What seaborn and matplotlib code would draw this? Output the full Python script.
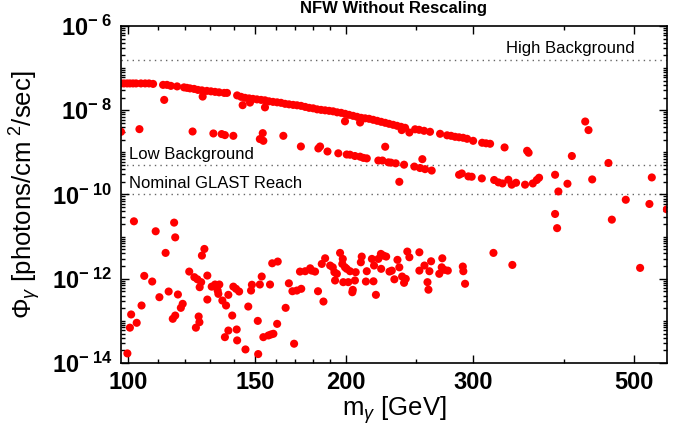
import numpy as np
import pandas as pd
import matplotlib
matplotlib.use('Agg')
import matplotlib.pyplot as plt
import matplotlib.ticker as mticker
import seaborn as sns

sns.set_style('ticks')
plt.rcParams['font.family'] = ['Liberation Sans', 'DejaVu Sans']
plt.rcParams['mathtext.fontset'] = 'custom'
plt.rcParams['mathtext.rm'] = 'Liberation Sans'
plt.rcParams['mathtext.it'] = 'Liberation Sans:italic'
plt.rcParams['mathtext.bf'] = 'Liberation Sans:bold'
plt.rcParams['text.color'] = 'black'
plt.rcParams['axes.labelcolor'] = 'black'
plt.rcParams['xtick.color'] = 'black'
plt.rcParams['ytick.color'] = 'black'

# ===== data =====
# upper branch (smooth band)
band_mass = [97.9, 98.8, 99.8, 100.7, 101.7, 102.7, 104.3, 105.7, 107.0, 108.4,
             111.9, 113.3, 114.7, 117.0, 119.6, 120.7, 121.9, 123.5, 125.0, 126.6,
             128.6, 130.3, 132.0, 133.7, 135.9, 137.1, 141.6, 143.4, 145.2, 147.1,
             148.9, 150.8, 152.8, 154.7, 156.7, 158.7, 160.8, 162.8, 164.9, 167.0,
             169.2, 171.3, 173.5, 175.8, 178.0, 180.3, 182.6, 184.9, 187.3, 189.7,
             192.1, 194.6, 197.1, 199.6, 202.1, 204.7, 207.3, 210.0, 212.7, 215.4,
             218.2, 221.0, 223.8, 226.7, 229.5, 232.5, 235.4, 238.4, 241.5, 249.3,
             252.5, 256.5, 261.4, 269.9, 276.0, 279.5, 283.1, 286.7, 290.4, 294.1,
             299.8, 308.5, 312.4, 316.4]
band_flux = [4.33e-8, 4.33e-8, 4.33e-8, 4.33e-8, 4.33e-8, 4.33e-8, 4.33e-8, 4.33e-8, 4.33e-8, 4.22e-8,
             4.0e-8, 4.0e-8, 3.79e-8, 3.68e-8, 3.49e-8, 3.40e-8, 3.30e-8, 3.21e-8, 3.04e-8, 2.96e-8,
             2.88e-8, 2.81e-8, 2.73e-8, 2.66e-8, 2.58e-8, 2.58e-8, 2.25e-8, 2.08e-8, 1.97e-8, 1.91e-8,
             1.86e-8, 1.81e-8, 1.76e-8, 1.72e-8, 1.63e-8, 1.58e-8, 1.54e-8, 1.50e-8, 1.42e-8, 1.38e-8,
             1.34e-8, 1.31e-8, 1.27e-8, 1.20e-8, 1.14e-8, 1.11e-8, 1.05e-8, 1.02e-8, 9.95e-9, 9.68e-9,
             9.42e-9, 8.92e-9, 8.68e-9, 8.22e-9, 7.78e-9, 7.37e-9, 6.98e-9, 6.61e-9, 6.43e-9, 6.26e-9,
             5.93e-9, 5.61e-9, 5.31e-9, 5.03e-9, 4.76e-9, 4.51e-9, 4.27e-9, 4.04e-9, 3.83e-9, 3.53e-9,
             3.43e-9, 3.25e-9, 3.08e-9, 2.76e-9, 2.54e-9, 2.47e-9, 2.34e-9, 2.28e-9, 2.22e-9, 2.10e-9,
             1.88e-9, 1.69e-9, 1.64e-9, 1.60e-9]

# points just below the upper band
stray_mass = [112.3, 126.9, 144.1, 147.5, 154.7, 199.5, 209.3, 238.9, 244.8, 331.3, 355.9, 357.6]
stray_flux = [1.76e-8, 2.11e-8, 1.32e-8, 1.52e-8, 1.17e-8, 5.46e-9, 5.12e-9, 3.38e-9, 2.96e-9,
              1.31e-9, 1.09e-9, 9.8e-10]

# lower branch
lower_mass = [97.9, 103.8, 122.9, 131.3, 134.8, 136.2, 139.9, 152.2, 153.6, 153.9,
              164.0, 173.4, 183.3, 184.3, 188.7, 195.3, 200.6, 202.7, 205.9, 209.3,
              211.5, 213.8, 221.8, 224.7, 226.7, 229.0, 230.9, 234.4, 240.7, 237.1,
              248.7, 253.2, 255.1, 257.3, 262.8, 286.7, 289.2, 295.3, 298.4, 308.2,
              320.5, 324.9, 329.1, 335.3, 338.9, 343.6, 353.6, 362.4, 367.0, 369.7]
lower_flux = [3.08e-9, 3.56e-9, 3.13e-9, 2.81e-9, 2.72e-9, 2.57e-9, 2.47e-9, 2.07e-9, 2.86e-9, 1.88e-9,
              2.47e-9, 1.38e-9, 1.24e-9, 1.38e-9, 1.05e-9, 9.5e-10, 8.9e-10, 8.8e-10, 8.2e-10, 7.9e-10,
              7.4e-10, 7.2e-10, 6.4e-10, 6.4e-10, 1.36e-9, 5.8e-10, 5.7e-10, 5.5e-10, 5.1e-10, 2.0e-10,
              4.6e-10, 4.25e-10, 6.9e-10, 4.0e-10, 3.7e-10, 2.94e-10, 3.16e-10, 2.69e-10, 2.64e-10, 2.41e-10,
              2.21e-10, 1.94e-10, 1.83e-10, 2.24e-10, 1.71e-10, 1.90e-10, 1.71e-10, 1.83e-10, 2.21e-10, 2.50e-10]

# heavy masses, scattered
heavy_mass = [389.0, 393.1, 404.6, 410.3, 428.1, 432.6, 437.7, 460.9, 487.0, 465.9,
              389.0, 391.5, 525.0, 529.0, 555.0, 509.7, 319.8, 339.6]
heavy_flux = [2.94e-10, 1.18e-10, 1.80e-10, 8.2e-10, 5.40e-9, 3.38e-9, 2.28e-10, 5.6e-10, 7.5e-11, 2.53e-11,
              3.45e-11, 1.59e-11, 5.96e-11, 2.54e-10, 4.44e-11, 1.81e-12, 4.11e-12, 2.13e-12]

# low flux cloud
cloud_mass = [102.0, 109.3, 115.9, 116.3, 112.8, 105.4, 108.1, 110.6, 113.9, 117.3,
              119.1, 118.4, 104.5, 101.1, 100.7, 102.9, 99.9, 116.3, 115.4, 121.6,
              123.6, 124.8, 126.3, 125.7, 126.6, 127.6, 128.8, 128.8, 125.3, 125.6,
              124.2, 130.6, 132.0, 133.8, 133.1, 133.4, 135.1, 136.7, 137.7, 139.9,
              141.1, 142.5, 139.4, 137.7, 136.2, 141.4, 141.6, 145.4, 146.7, 148.0,
              148.4, 151.2, 151.4, 152.2, 153.1, 153.9, 156.4, 157.7, 158.9, 157.2,
              158.3, 161.1, 160.8, 165.2, 166.9, 168.8, 169.7, 171.2, 173.6, 172.9,
              175.8, 178.6, 179.5, 181.4, 183.1, 185.3, 187.3, 186.3, 190.3, 191.9,
              192.9, 193.3, 194.4, 196.4, 198.1, 197.8, 199.5, 198.4, 201.6, 200.6,
              202.7, 204.2, 204.5, 205.9, 206.4, 210.4, 209.8, 213.8, 213.2, 217.3,
              218.8, 218.4, 220.1, 221.8, 223.8, 223.6, 225.4, 227.4, 229.8, 231.5,
              233.4, 235.7, 237.1, 239.2, 240.7, 242.0, 243.2, 244.8, 252.7, 252.7,
              256.8, 259.3, 260.1, 260.9, 262.3, 269.2, 271.8, 271.3, 273.5, 276.6,
              290.1, 290.6, 292.2]
cloud_flux = [2.31e-11, 1.34e-11, 2.15e-11, 9.6e-12, 4.11e-12, 1.17e-12, 8.6e-13, 3.65e-13, 4.98e-13, 4.23e-13,
              2.54e-13, 2.04e-13, 2.32e-13, 1.42e-13, 6.9e-14, 9.0e-14, 1.69e-14, 1.34e-13, 1.12e-13, 1.48e-12,
              1.09e-12, 9.7e-13, 8.3e-13, 6.3e-13, 3.55e-12, 5.1e-12, 1.19e-12, 3.21e-13, 1.27e-13, 9.3e-14,
              6.9e-14, 6.5e-13, 7.3e-13, 7.3e-13, 5.25e-13, 4.38e-13, 3.04e-13, 2.32e-13, 4.15e-13, 6.5e-13,
              5.77e-13, 4.98e-13, 1.34e-13, 5.9e-14, 4.11e-14, 6.25e-14, 3.44e-14, 2.10e-14, 2.19e-13, 5.25e-13,
              7.2e-13, 1.00e-13, 1.63e-14, 7.3e-13, 1.13e-12, 4.11e-14, 4.51e-14, 4.76e-14, 4.94e-14, 7.3e-13,
              2.33e-12, 2.56e-12, 8.5e-14, 2.04e-13, 7.8e-13, 5.06e-13, 2.87e-14, 5.25e-13, 5.77e-13, 1.48e-12,
              1.51e-12, 1.77e-12, 1.56e-12, 1.48e-12, 5.06e-13, 2.25e-12, 3.06e-12, 2.88e-13, 2.06e-12, 1.87e-12,
              1.43e-12, 9.1e-13, 1.31e-12, 4.11e-12, 2.96e-12, 2.25e-12, 1.87e-12, 8.3e-13, 8.3e-13, 1.72e-12,
              1.51e-12, 4.79e-13, 5.45e-13, 9.1e-13, 1.43e-12, 3.36e-12, 2.46e-12, 1.51e-12, 8.6e-13, 2.96e-12,
              2.06e-12, 8.7e-13, 4.15e-13, 2.96e-12, 1.72e-12, 3.89e-12, 3.55e-12, 3.36e-12, 1.48e-12, 1.56e-12,
              9.7e-13, 2.81e-12, 1.87e-12, 1.13e-12, 8.0e-13, 9.95e-13, 4.42e-12, 3.24e-12, 4.25e-12, 1.56e-12,
              2.06e-12, 8.3e-13, 5.5e-13, 1.51e-12, 2.60e-12, 1.31e-12, 3.06e-12, 1.87e-12, 1.63e-12, 1.56e-12,
              1.95e-12, 1.51e-12, 7.6e-13]

# reference lines
ref_levels = [1.6e-7, 5.0e-10, 1.0e-10]
ref_names = ['High Background', 'Low Background', 'Nominal GLAST Reach']

y_ticks = [1e-14, 1e-12, 1e-10, 1e-8, 1e-6]
y_ticklabels = [r'$\mathbf{10^{-\ 14}}$', r'$\mathbf{10^{-\ 12}}$', r'$\mathbf{10^{-\ 10}}$',
                r'$\mathbf{10^{-\ 8}}$', r'$\mathbf{10^{-\ 6}}$']
x_ticks = [100, 150, 200, 300, 500]
x_minor = [110, 120, 130, 140, 160, 170, 180, 190, 250, 400]

df = pd.DataFrame({
    'mass': band_mass + stray_mass + lower_mass + heavy_mass + cloud_mass,
    'flux': band_flux + stray_flux + lower_flux + heavy_flux + cloud_flux,
})

fig = plt.figure(figsize=(6.75, 4.36), dpi=100)
ax = fig.add_axes([0.1793, 0.1674, 0.8087, 0.7730])

ax.set_xscale('log')
ax.set_yscale('log')

sns.scatterplot(data=df, x='mass', y='flux', ax=ax, color='#ff0000',
                s=34, linewidth=0, edgecolor='none', clip_on=True)

for lev in ref_levels:
    ax.axhline(lev, color='#666666', linestyle=(0, (1, 3)), linewidth=1.0, zorder=0)

ax.text(0.94, 1.9e-7, ref_names[0], transform=ax.get_yaxis_transform(),
        ha='right', va='bottom', fontsize=12)
ax.text(0.015, 6.0e-10, ref_names[1], transform=ax.get_yaxis_transform(),
        ha='left', va='bottom', fontsize=12)
ax.text(0.015, 1.2e-10, ref_names[2], transform=ax.get_yaxis_transform(),
        ha='left', va='bottom', fontsize=12)

ax.set_xlim(97.9, 555)
ax.set_ylim(1e-14, 1e-6)

ax.xaxis.set_major_locator(mticker.FixedLocator(x_ticks))
ax.xaxis.set_minor_locator(mticker.FixedLocator(x_minor))
ax.set_xticklabels([str(v) for v in x_ticks], fontsize=17, fontweight='bold')
ax.xaxis.set_minor_formatter(mticker.NullFormatter())

ax.yaxis.set_major_locator(mticker.FixedLocator(y_ticks))
ax.yaxis.set_minor_locator(mticker.LogLocator(base=10, subs=np.arange(1, 10), numticks=20))
ax.set_yticklabels(y_ticklabels, fontsize=17)
ax.yaxis.set_minor_formatter(mticker.NullFormatter())

ax.tick_params(which='both', direction='in', top=True, right=True, width=1.0, colors='black')
ax.tick_params(which='major', length=6, pad=6)
ax.tick_params(which='minor', length=3)
for sp in ax.spines.values():
    sp.set_linewidth(1.2)
    sp.set_color('black')

ax.set_xlabel(r'm$_\gamma$ [GeV]', fontsize=18.5, labelpad=0)
ax.set_ylabel(r'$\Phi_\gamma$ [photons/cm$^{\ 2}$/sec]', fontsize=18.5, labelpad=6)
ax.set_title('NFW Without Rescaling', fontsize=12, fontweight='bold', pad=9)

fig.savefig('out.png', dpi=100)
